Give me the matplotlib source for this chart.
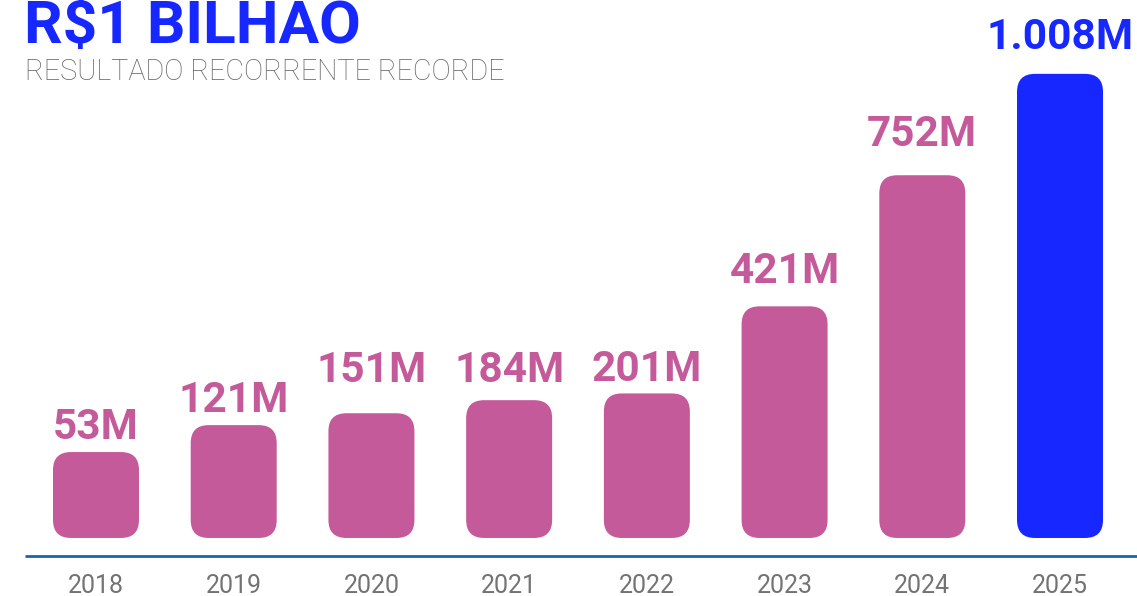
"""Recurring result bar chart, 2018-2025 (rounded bars, value labels on top)."""

import matplotlib

matplotlib.use("Agg")
import matplotlib.pyplot as plt
from matplotlib.patches import FancyBboxPatch

years = ["2018", "2019", "2020", "2021", "2022", "2023", "2024", "2025"]
values = [53, 121, 151, 184, 201, 421, 752, 1008]
labels = ["53M", "121M", "151M", "184M", "201M", "421M", "752M", "1.008M"]

PINK = "#C55A9B"
BLUE = "#1628FF"
GREY = "#737373"
LINE = "#1763B8"

# the value axis does not start at zero: bars rise from this floor
FLOOR = -164.0
# gap between bar top and label baseline, in pixels (labels were hand placed)
LABEL_GAPS_PX = [13, 13, 31, 18, 12, 23, 29, 25]

W_PX, H_PX, DPI = 1137, 596, 100
AXIS_BOTTOM_PX = 556
XLIM = (-0.697, 7.559)
YLIM = (-209.5, 1194.5)
BAR_WIDTH = 0.6245
RADIUS_PX = 18

plt.rcParams["font.family"] = ["Roboto", "DejaVu Sans"]

fig = plt.figure(figsize=(W_PX / DPI, H_PX / DPI), dpi=DPI)
ax = fig.add_axes([0, (H_PX - AXIS_BOTTOM_PX) / H_PX, 1, AXIS_BOTTOM_PX / H_PX])
ax.set_xlim(*XLIM)
ax.set_ylim(*YLIM)
ax.axis("off")

x_per_px = (XLIM[1] - XLIM[0]) / W_PX
y_per_px = (YLIM[1] - YLIM[0]) / AXIS_BOTTOM_PX
aspect = y_per_px / x_per_px

for i, (value, label, gap) in enumerate(zip(values, labels, LABEL_GAPS_PX)):
    color = BLUE if i == len(values) - 1 else PINK
    bar = FancyBboxPatch(
        (i - BAR_WIDTH / 2, FLOOR),
        BAR_WIDTH,
        value - FLOOR,
        boxstyle=f"round,pad=0,rounding_size={RADIUS_PX * x_per_px}",
        mutation_aspect=aspect,
        facecolor=color,
        edgecolor="none",
    )
    ax.add_patch(bar)
    ax.annotate(
        label,
        (i, value),
        xytext=(0, gap * 0.72),
        textcoords="offset points",
        ha="center",
        va="baseline",
        fontsize=30.5,
        fontweight="bold",
        color=color,
    )
    ax.annotate(
        years[i],
        (i, YLIM[0]),
        xytext=(0, -37 * 0.72),
        textcoords="offset points",
        ha="center",
        va="baseline",
        fontsize=18,
        color=GREY,
    )

# baseline under the bars
ax.plot([25 / W_PX, 1.0], [0, 0], transform=ax.transAxes, color=LINE, lw=2.0, clip_on=False, solid_capstyle="butt")

fig.text(24 / W_PX, 1 - 43 / H_PX, "R$1 BILHAO", fontsize=43.5, fontweight="bold", color=BLUE, va="baseline")
fig.text(25 / W_PX, 1 - 80 / H_PX, "RESULTADO RECORRENTE RECORDE", fontsize=20.7, fontweight="light", color="#666666", va="baseline")

fig.savefig("out.png", dpi=DPI)
